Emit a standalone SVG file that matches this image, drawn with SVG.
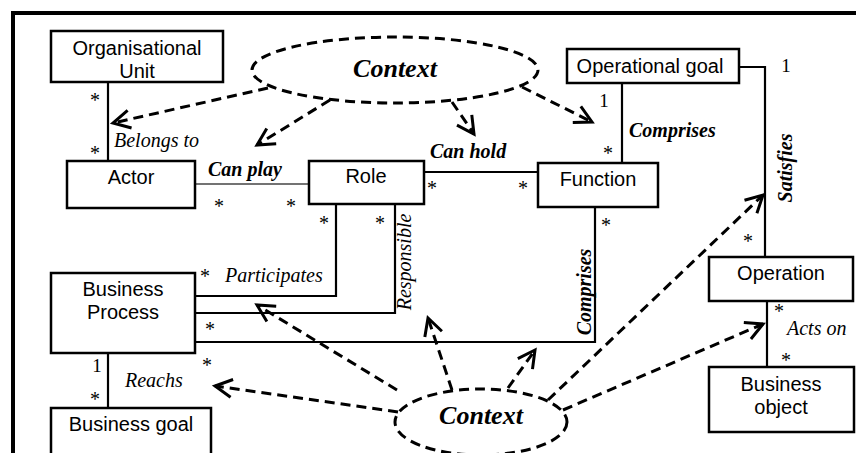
<svg xmlns="http://www.w3.org/2000/svg" width="856" height="453" viewBox="0 0 856 453">
<style>
.box{fill:#fff;stroke:#000;stroke-width:2.5}
.nt{font-family:"Liberation Sans",Arial,sans-serif;font-size:20px;fill:#000;text-anchor:middle}
.ln{fill:none;stroke:#000;stroke-width:2.2}
.dash{fill:none;stroke:#000;stroke-width:3;stroke-dasharray:10 6}
.lab{font-family:"Liberation Serif","Times New Roman",serif;font-size:20px;font-style:italic;fill:#000}
.bl{font-family:"Liberation Serif","Times New Roman",serif;font-size:20px;font-style:italic;font-weight:bold;fill:#000}
.ctx{font-family:"Liberation Serif","Times New Roman",serif;font-size:26px;font-style:italic;font-weight:bold;fill:#000;text-anchor:middle}
.st{font-family:"Liberation Serif","Times New Roman",serif;font-size:20px;fill:#000;text-anchor:middle}
.one{font-family:"Liberation Serif","Times New Roman",serif;font-size:19px;fill:#000;text-anchor:middle}
</style>
<defs>
<marker id="ah" markerUnits="userSpaceOnUse" markerWidth="26" markerHeight="26" viewBox="-22 -13 26 26" refX="0" refY="0" orient="auto">
<path d="M-17,-9 L0,0 L-17,9" fill="none" stroke="#000" stroke-width="3" stroke-dasharray="none"/>
</marker>
</defs>
<rect width="856" height="453" fill="#fff"/>
<path d="M13,460 V13 H860" fill="none" stroke="#000" stroke-width="4"/>

<g id="connectors">
<path class="ln" d="M108,82 V161"/>
<path d="M195,184 H309" fill="none" stroke="#444" stroke-width="1.6"/>
<path class="ln" d="M424,172 H538"/>
<path class="ln" d="M622,83 V163"/>
<path class="ln" d="M739,67 H765 V257"/>
<path class="ln" d="M767,301 V367"/>
<path class="ln" d="M336,204 V296 H195"/>
<path class="ln" d="M395,204 V313 H195"/>
<path class="ln" d="M595,207 V342 H195"/>
<path class="ln" d="M108,353 V408"/>
<path class="dash" d="M268,88 L113,123" marker-end="url(#ah)"/>
<path class="dash" d="M330,100 L257,145" marker-end="url(#ah)"/>
<path class="dash" d="M452,102 L474,134" marker-end="url(#ah)"/>
<path class="dash" d="M522,87 L592,122" marker-end="url(#ah)"/>
<path class="dash" d="M398,412 L215,386" marker-end="url(#ah)"/>
<path class="dash" d="M397,390 L257,305" marker-end="url(#ah)"/>
<path class="dash" d="M452,390 L428,318" marker-end="url(#ah)"/>
<path class="dash" d="M508,388 L535,350" marker-end="url(#ah)"/>
<path class="dash" d="M548,400 L763,195" marker-end="url(#ah)"/>
<path class="dash" d="M563,410 L763,324" marker-end="url(#ah)"/>
</g>

<g id="labels">
<text class="lab" x="114" y="147">Belongs to</text>
<text class="bl" x="208" y="176">Can play</text>
<text class="bl" x="430" y="158">Can hold</text>
<text class="bl" x="629" y="137">Comprises</text>
<text class="bl" text-anchor="middle" transform="translate(792,168) rotate(-90)">Satisfies</text>
<text class="lab" x="787" y="335">Acts on</text>
<text class="lab" x="225" y="282">Participates</text>
<text class="lab" text-anchor="middle" transform="translate(411,262) rotate(-90)">Responsible</text>
<text class="bl" text-anchor="middle" transform="translate(591,292) rotate(-90)">Comprises</text>
<text class="lab" x="125" y="387">Reachs</text>
<text class="st" x="95" y="107">*</text>
<text class="st" x="95" y="160">*</text>
<text class="st" x="219" y="213">*</text>
<text class="st" x="291" y="213">*</text>
<text class="st" x="432" y="195">*</text>
<text class="st" x="523" y="195">*</text>
<text class="st" x="608" y="160">*</text>
<text class="st" x="324" y="230">*</text>
<text class="st" x="380" y="230">*</text>
<text class="st" x="606" y="232">*</text>
<text class="st" x="205" y="283">*</text>
<text class="st" x="210" y="336">*</text>
<text class="st" x="207" y="372">*</text>
<text class="st" x="95" y="406">*</text>
<text class="st" x="748" y="248">*</text>
<text class="st" x="779" y="318">*</text>
<text class="st" x="786" y="367">*</text>
<text class="one" x="604" y="107">1</text>
<text class="one" x="786" y="72">1</text>
<text class="one" x="97" y="372">1</text>
</g>

<g id="context-top">
<ellipse class="dash" cx="395" cy="70" rx="143" ry="33"/>
<text class="ctx" x="395" y="77">Context</text>
</g>
<g id="context-bottom">
<ellipse class="dash" cx="481" cy="422" rx="86" ry="33"/>
<text class="ctx" x="481" y="424">Context</text>
</g>

<g id="org-unit">
<rect class="box" x="51" y="31" width="172" height="51"/>
<text class="nt" x="137" y="55">Organisational</text>
<text class="nt" x="137" y="78">Unit</text>
</g>
<g id="actor">
<rect class="box" x="67" y="161" width="128" height="47"/>
<text class="nt" x="131" y="184">Actor</text>
</g>
<g id="role">
<rect class="box" x="309" y="161" width="115" height="43"/>
<text class="nt" x="366" y="183">Role</text>
</g>
<g id="function">
<rect class="box" x="538" y="163" width="120" height="44"/>
<text class="nt" x="598" y="186">Function</text>
</g>
<g id="operational-goal">
<rect class="box" x="567" y="49" width="172" height="34"/>
<text class="nt" x="650" y="73">Operational goal</text>
</g>
<g id="operation">
<rect class="box" x="709" y="257" width="144" height="44"/>
<text class="nt" x="781" y="280">Operation</text>
</g>
<g id="business-object">
<rect class="box" x="709" y="367" width="145" height="65"/>
<text class="nt" x="781" y="391">Business</text>
<text class="nt" x="781" y="414">object</text>
</g>
<g id="business-process">
<rect class="box" x="51" y="273" width="144" height="80"/>
<text class="nt" x="123" y="296">Business</text>
<text class="nt" x="123" y="319">Process</text>
</g>
<g id="business-goal">
<rect class="box" x="51" y="408" width="160" height="52"/>
<text class="nt" x="131" y="431">Business goal</text>
</g>
</svg>
